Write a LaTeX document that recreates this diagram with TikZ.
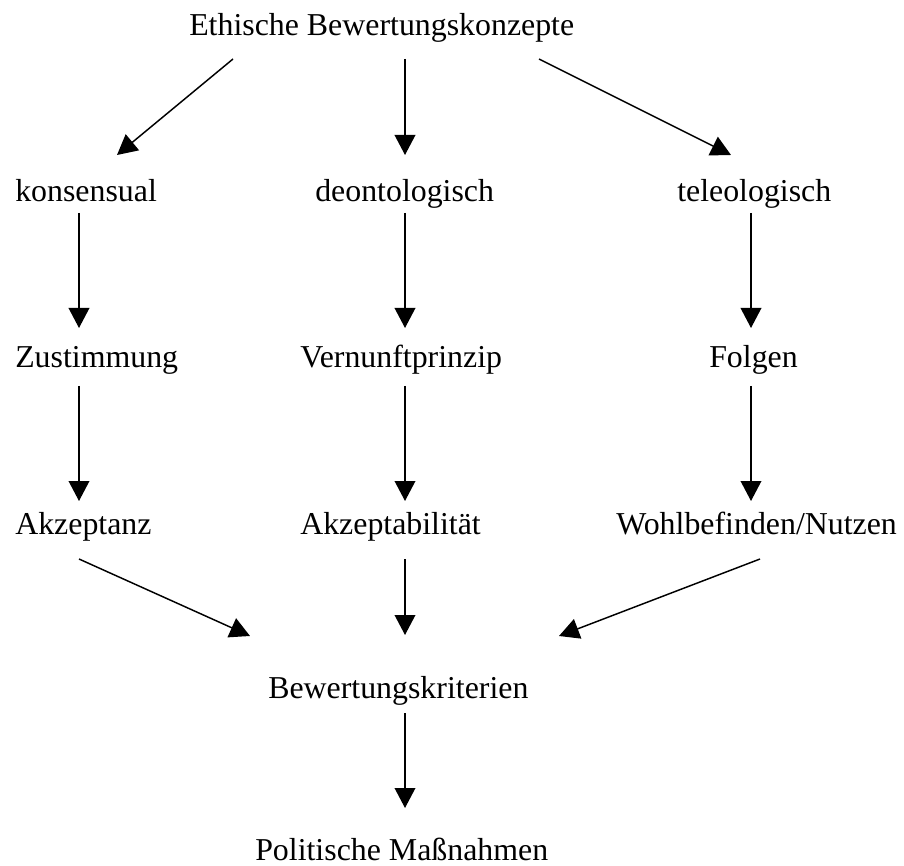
\documentclass[tikz,border=0pt]{standalone}
\usepackage{fontspec}
\setmainfont{Liberation Serif}
\usetikzlibrary{arrows.meta,calc}
\begin{document}
\begin{tikzpicture}[x=0.75pt,y=-0.75pt,
  lbl/.style={anchor=base west,inner sep=0pt,font=\fontsize{23.9pt}{28pt}\selectfont},
  arr/.style={line width=1.1pt,-{Triangle[length=15pt,width=15.5pt]}}]
\useasboundingbox (0,0) rectangle (904,866);
\node[lbl] (title) at (189,36) {Ethische Bewertungskonzepte};
\node[lbl] (kons) at (15,202) {konsensual};
\node[lbl] (deon) at (315,202) {deontologisch};
\node[lbl] (tele) at (677,202) {teleologisch};
\node[lbl] (zust) at (15,368) {Zustimmung};
\node[lbl] (vern) at (300,368) {Vernunftprinzip};
\node[lbl] (folg) at (709,368) {Folgen};
\node[lbl] (akz) at (15,534) {Akzeptanz};
\node[lbl] (akzb) at (300,534) {Akzeptabilität};
\node[lbl] (wohl) at (616,534) {Wohlbefinden/Nutzen};
\node[lbl] (bew) at (268,698) {Bewertungskriterien};
\node[lbl] (pol) at (255,860) {Politische Maßnahmen};
% top level
\draw[arr] ($(title.base west)+(44,23)$) -- ($(kons.base west)+(102,-47)$);
\draw[arr] ($(title.base west)+(216,23)$) -- ($(deon.base west)+(90,-47)$);
\draw[arr] ($(title.base west)+(350,23)$) -- ($(tele.base west)+(54,-47)$);
% second level
\draw[arr] ($(kons.base west)+(64,11)$) -- ($(zust.base west)+(64,-40)$);
\draw[arr] ($(deon.base west)+(90,11)$) -- ($(vern.base west)+(105,-40)$);
\draw[arr] ($(tele.base west)+(74,11)$) -- ($(folg.base west)+(42,-40)$);
% third level
\draw[arr] ($(zust.base west)+(64,18)$) -- ($(akz.base west)+(64,-33)$);
\draw[arr] ($(vern.base west)+(105,18)$) -- ($(akzb.base west)+(105,-33)$);
\draw[arr] ($(folg.base west)+(42,18)$) -- ($(wohl.base west)+(135,-33)$);
% fourth level
\draw[arr] ($(akz.base west)+(64,25)$) -- ($(bew.base west)+(-18,-62)$);
\draw[arr] ($(akzb.base west)+(105,25)$) -- ($(bew.base west)+(137,-63)$);
\draw[arr] ($(wohl.base west)+(144,25)$) -- ($(bew.base west)+(291,-62)$);
% last
\draw[arr] ($(bew.base west)+(137,15)$) -- ($(pol.base west)+(150,-52)$);
\end{tikzpicture}
\end{document}
